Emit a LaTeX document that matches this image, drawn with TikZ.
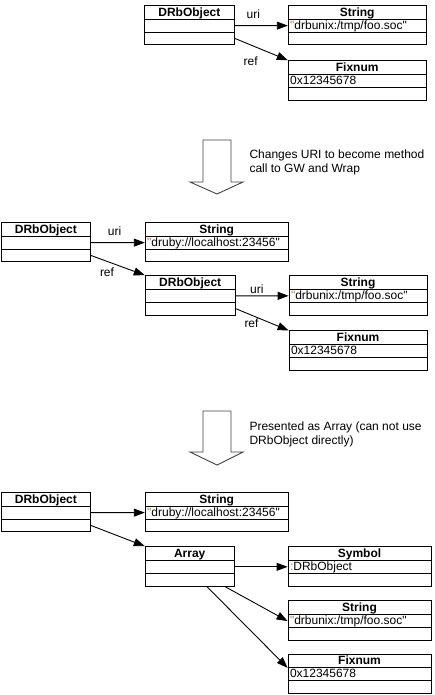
\documentclass[tikz,border=0pt]{standalone}
\usepackage{fontspec}
\setmainfont{Liberation Sans}[Ligatures=TeXOff]
\usetikzlibrary{positioning,arrows.meta,shapes.multipart,calc}

\definecolor{quotecol}{RGB}{196,120,30}
\newlength\boxw
\newcommand\hdrow[1]{\makebox[\boxw]{\rule[-2.5pt]{0pt}{13pt}\textbf{#1}}}
\newcommand\valrow[1]{\makebox[\boxw][l]{\rule[-2.5pt]{0pt}{12pt}#1}}
\newcommand\qc[1]{\textcolor{quotecol}{#1}}

\begin{document}
\begin{tikzpicture}[
  x=1pt, y=-1pt,
  every node/.style={font=\fontsize{12}{13.5}\selectfont},
  obj/.style={draw, line width=0.8pt, rectangle split, rectangle split parts=3,
    inner xsep=2pt, inner ysep=0pt, /utils/exec={\setlength\boxw{#1}}},
  link/.style={-{Triangle[length=11pt,width=8pt]}, line width=0.9pt},
  bigarrow/.style={draw=black!75, line width=0.9pt},
  note/.style={anchor=west, align=left},
]
\useasboundingbox (0,0) rectangle (434,695);

% first state
\node[obj=86pt, anchor=north west] (d1) at (144,5)
  {\hdrow{DRbObject}\nodepart{two}\valrow{}\nodepart{three}\valrow{}};
\node[obj=134pt, right=53pt of d1] (s1)
  {\hdrow{String}\nodepart{two}\valrow{\qc{"}drbunix:/tmp/foo.soc"}\nodepart{three}\valrow{}};
\node[obj=134pt, below=15pt of s1] (f1)
  {\hdrow{Fixnum}\nodepart{two}\valrow{0x12345678}\nodepart{three}\valrow{}};

\draw[link] (d1.two east) -- node[pos=0.35, above=3pt] (u1) {uri} (s1.two west);
\draw[link] (d1.three east) -- node[pos=0.3, below=8pt] (r1) {ref} (f1.north west);

% step 1
\draw[bigarrow] (203,140) -- (231,140) -- (231,182) -- (243,182) -- (217,194)
  -- (190,182) -- (203,182) -- cycle;
\node[note] (n1) at (246,162.5) {Changes URI to become method\\call to GW and Wrap};

% second state
\node[obj=85pt, anchor=north west] (d2) at (1,222)
  {\hdrow{DRbObject}\nodepart{two}\valrow{}\nodepart{three}\valrow{}};
\node[obj=139pt, right=54pt of d2] (s2)
  {\hdrow{String}\nodepart{two}\valrow{\qc{"}druby://localhost:23456"}\nodepart{three}\valrow{}};
\node[obj=86pt, below=13pt of s2.south west, anchor=north west] (d3)
  {\hdrow{DRbObject}\nodepart{two}\valrow{}\nodepart{three}\valrow{}};
\node[obj=134pt, right=53pt of d3] (s3)
  {\hdrow{String}\nodepart{two}\valrow{\qc{"}drbunix:/tmp/foo.soc"}\nodepart{three}\valrow{}};
\node[obj=134pt, below=15pt of s3] (f3)
  {\hdrow{Fixnum}\nodepart{two}\valrow{0x12345678}\nodepart{three}\valrow{}};

\draw[link] (d2.two east) -- node[pos=0.44, above=3pt] (u2) {uri} (s2.two west);
\draw[link] (d2.three east) -- node[pos=0.3, below=3pt] (r2) {ref} (d3.north west);
\draw[link] (d3.two east) -- node[pos=0.4, above=-2pt] (u3) {uri} (s3.two west);
\draw[link] (d3.three east) -- node[pos=0.3, below=0pt] (r3) {ref} (f3.north west);

% step 2
\draw[bigarrow] (203,411) -- (231,411) -- (231,452) -- (243,452) -- (217,465)
  -- (190,452) -- (203,452) -- cycle;
\node[note] (n2) at (246,434.5) {Presented as Array (can not use\\DRbObject directly)};

% third state
\node[obj=85pt, anchor=north west] (d4) at (1,492)
  {\hdrow{DRbObject}\nodepart{two}\valrow{}\nodepart{three}\valrow{}};
\node[obj=139pt, right=54pt of d4] (s4)
  {\hdrow{String}\nodepart{two}\valrow{\qc{"}druby://localhost:23456"}\nodepart{three}\valrow{}};
\node[obj=85pt, below=14pt of s4.south west, anchor=north west] (a4)
  {\hdrow{Array}\nodepart{two}\valrow{}\nodepart{three}\valrow{}};
\node[obj=139pt, right=53pt of a4] (y4)
  {\hdrow{Symbol}\nodepart{two}\valrow{\qc{:}DRbObject}\nodepart{three}\valrow{}};
\node[obj=139pt, below=14pt of y4] (s5)
  {\hdrow{String}\nodepart{two}\valrow{\qc{"}drbunix:/tmp/foo.soc"}\nodepart{three}\valrow{}};
\node[obj=139pt, below=13pt of s5] (f5)
  {\hdrow{Fixnum}\nodepart{two}\valrow{0x12345678}\nodepart{three}\valrow{}};

\draw[link] (d4.two east) -- (s4.two west);
\draw[link] (d4.three east) -- (a4.north west);
\draw[link] (a4.two east) -- (y4.two west);
\draw[link] ([xshift=35pt]a4.south) -- (s5.two west);
\draw[link] ([xshift=17pt]a4.south) -- (f5.text split west);
\end{tikzpicture}
\end{document}
